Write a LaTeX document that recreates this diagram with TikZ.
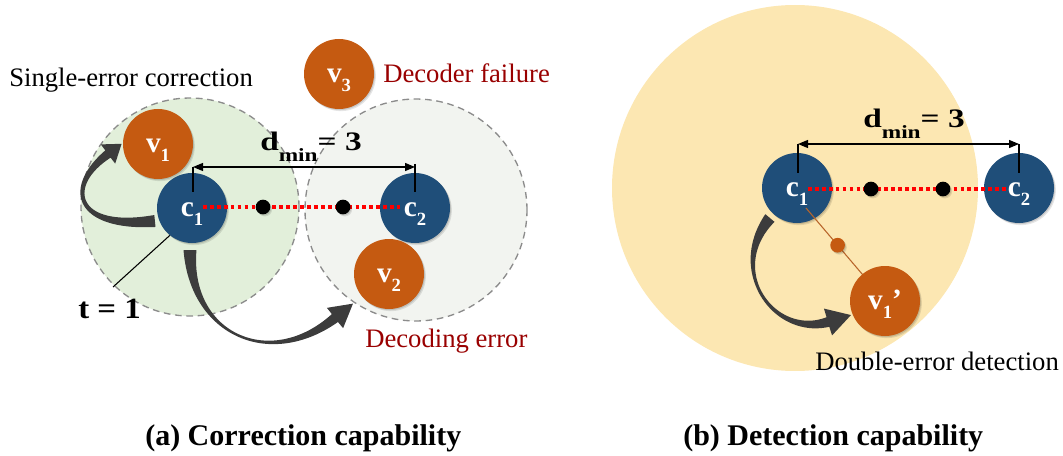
\documentclass[tikz,border=0pt]{standalone}
\usepackage{fontspec}
\setmainfont{Liberation Serif}
\usetikzlibrary{arrows.meta,calc}

\definecolor{nodeblue}{HTML}{1F4E79}
\definecolor{nodeorange}{HTML}{C55A11}
\definecolor{zonegreen}{HTML}{E2EFDA}
\definecolor{zonegray}{HTML}{F2F4F0}
\definecolor{zoneyellow}{HTML}{FCE7B2}
\definecolor{zoneedge}{HTML}{8C8C8C}
\definecolor{errred}{HTML}{990000}
\definecolor{swooshgray}{HTML}{3C3C3C}
\definecolor{linkbrown}{HTML}{B8652A}
\definecolor{hamred}{HTML}{FF0000}

% symbol with a lowered index
\newcommand{\sub}[2]{#1\raisebox{-0.3em}{\fontsize{14}{14}\selectfont #2}}

% control points, widths and head of a tapered curved arrow
\newcommand{\swooshpts}[8]{\def\sAx{#1}\def\sAy{#2}\def\sBx{#3}\def\sBy{#4}%
  \def\sCx{#5}\def\sCy{#6}\def\sDx{#7}\def\sDy{#8}}
\newcommand{\swooshwid}[6]{\def\sWs{#1}\def\sWm{#2}\def\sWe{#3}\def\sTm{#4}%
  \def\sHw{#5}\def\sHl{#6}}

\tikzset{
  swoosh fns/.style={declare function={
    bx(\t)=(1-\t)^3*\sAx+3*(1-\t)^2*\t*\sBx+3*(1-\t)*\t^2*\sCx+\t^3*\sDx;
    by(\t)=(1-\t)^3*\sAy+3*(1-\t)^2*\t*\sBy+3*(1-\t)*\t^2*\sCy+\t^3*\sDy;
    dx(\t)=0.01*(3*(1-\t)^2*(\sBx-\sAx)+6*(1-\t)*\t*(\sCx-\sBx)+3*\t^2*(\sDx-\sCx));
    dy(\t)=0.01*(3*(1-\t)^2*(\sBy-\sAy)+6*(1-\t)*\t*(\sCy-\sBy)+3*\t^2*(\sDy-\sCy));
    dl(\t)=sqrt(dx(\t)^2+dy(\t)^2);
    hw(\t)=0.5*(\t<\sTm ? \sWm+(\sWs-\sWm)*(abs(\sTm-\t)/\sTm)^2
                        : \sWm+(\sWe-\sWm)*(abs(\t-\sTm)/(1-\sTm))^2);
  }},
  softshadow/.style={
    preaction={fill=black, opacity=0.10, transform canvas={xshift=1.4pt, yshift=-1.6pt}},
    preaction={fill=black, opacity=0.12, transform canvas={xshift=0.7pt, yshift=-0.8pt}}},
  vert/.style={circle, minimum size=52.5pt, inner sep=0pt, text=white,
    font=\fontsize{22}{22}\selectfont\bfseries, text height=20pt, text depth=6.6pt,
    softshadow},
  code/.style={vert, fill=nodeblue},
  word/.style={vert, fill=nodeorange},
  zone/.style={circle, inner sep=0pt},
  dashzone/.style={zone, draw=zoneedge, line width=1pt, dash pattern=on 5pt off 3.5pt},
  dot/.style={circle, fill=black, minimum size=11pt, inner sep=0pt, softshadow},
  smalldot/.style={dot, fill=nodeorange, minimum size=11pt},
  hamming/.style={draw=hamred, line width=2.8pt, dash pattern=on 2.8pt off 2.4pt},
  dimline/.style={draw=black, line width=0.9pt,
    {Triangle[length=7.5pt,width=6pt]}-{Triangle[length=7.5pt,width=6pt]}},
  tick/.style={draw=black, line width=0.8pt},
  note/.style={inner sep=0pt, anchor=base west, font=\fontsize{20}{22}\selectfont},
  errnote/.style={note, text=errred},
  bignote/.style={inner sep=0pt, anchor=base west, font=\fontsize{20}{22}\selectfont\bfseries},
  caption/.style={inner sep=0pt, anchor=base west, font=\fontsize{22.5}{26}\selectfont\bfseries},
}

\newcommand{\swooshfill}{%
  \fill[swooshgray]
    plot[domain=0:1, samples=60, variable=\u]
      ({bx(\u)-hw(\u)*dy(\u)/dl(\u)}, {by(\u)+hw(\u)*dx(\u)/dl(\u)})
    -- ({\sDx-\sHw*dy(1)/dl(1)}, {\sDy+\sHw*dx(1)/dl(1)})
    -- ({\sDx+\sHl*dx(1)/dl(1)}, {\sDy+\sHl*dy(1)/dl(1)})
    -- ({\sDx+\sHw*dy(1)/dl(1)}, {\sDy-\sHw*dx(1)/dl(1)})
    -- plot[domain=1:0, samples=60, variable=\u]
      ({bx(\u)+hw(\u)*dy(\u)/dl(\u)}, {by(\u)-hw(\u)*dx(\u)/dl(\u)})
    -- cycle;}

\begin{document}
\begin{tikzpicture}[x=0.75pt, y=-0.75pt]
\useasboundingbox (0,0) rectangle (1063,456);

% ---------- (b) detection sphere ----------
\node[zone, fill=zoneyellow, minimum size=274.5pt] (sphb) at (795,188) {};

% ---------- (a) decoding spheres ----------
\node[dashzone, fill=zonegreen, minimum size=163.5pt] (sph1) at (190,207) {};
\node[dashzone, fill=zonegray, minimum size=166.5pt] (sph2) at (416,210) {};

% ---------- (a) codewords and received words ----------
\node[code] (c1a) at (192,208) {\sub{c}{1}};
\node[code] (c2a) at (415,208) {\sub{c}{2}};
\node[word] (v1a) at (158,144) {\sub{v}{1}};
\node[word] (v2a) at (389,274) {\sub{v}{2}};
\node[word] (v3a) at (339,74) {\sub{v}{3}};

\draw[hamming] ($(c1a.center)+(11,-1)$) -- ($(c2a.center)+(-15,-1)$);
\node[dot] (p1a) at (263,207) {};
\node[dot] (p2a) at (343,207) {};

\coordinate (da1) at (193,167);
\coordinate (da2) at (415,167);
\draw[dimline] (da1) -- (da2);
\coordinate (ka1) at (193,192);
\coordinate (ka2t) at (415,164);
\coordinate (ka2) at (415,192);
\draw[tick] (da1) -- (ka1);
\draw[tick] (ka2t) -- (ka2);
\node[bignote] (dmina) at (260,151)
  {\scalebox{1.25}[1]{d\raisebox{-0.38em}{\fontsize{14}{14}\selectfont min}= 3}};

\coordinate (tend) at (113,287);
\draw[tick] (c1a.231) -- (tend);
\node[bignote] (tlab) at (78,318)
  {\fontsize{22}{24}\selectfont\scalebox{1.12}[1]{t = 1}};

\begin{scope}[swoosh fns]
  % c1 -> v1
  \swooshpts{155}{221}{75}{230}{64}{187}{108}{154}
  \swooshwid{12}{4}{9}{0.55}{12}{17}
  \swooshfill
  % c1 -> v2
  \swooshpts{190}{250}{190}{335}{270}{370}{335}{318}
  \swooshwid{13}{2.5}{10}{0.5}{13}{23}
  \swooshfill
\end{scope}

\node[note] (sec) at (9,87) {Single-error correction};
\node[errnote] (fail) at (383,83) {Decoder failure};
\node[errnote] (derr) at (365,347) {Decoding error};

% ---------- (b) codewords and received word ----------
\node[code] (c1b) at (797,188) {\sub{c}{1}};
\node[code] (c2b) at (1019,188) {\sub{c}{2}};

\coordinate (v1pos) at (885,301);
\coordinate (lnstart) at (806,208);
\draw[linkbrown, line width=0.8pt] (lnstart) -- (v1pos);
\node[smalldot] (midb) at ($(lnstart)!0.40!(v1pos)$) {};
\node[word] (v1b) at (v1pos) {\sub{v}{1}’};

\draw[hamming] ($(c1b.center)+(11,1)$) -- ($(c2b.center)+(-12,1)$);
\node[dot] (p1b) at (871,189) {};
\node[dot] (p2b) at (943,189) {};

\coordinate (db1) at (798,144);
\coordinate (db2) at (1019,144);
\draw[dimline] (db1) -- (db2);
\coordinate (kb1) at (798,173);
\coordinate (kb2) at (1019,173);
\draw[tick] (db1) -- (kb1);
\draw[tick] (db2) -- (kb2);
\node[bignote] (dminb) at (863,128)
  {\scalebox{1.25}[1]{d\raisebox{-0.38em}{\fontsize{14}{14}\selectfont min}= 3}};

\begin{scope}[swoosh fns]
  % c1 -> v1'
  \swooshpts{770}{218}{726}{272}{775}{338}{828}{322}
  \swooshwid{12}{3}{10}{0.45}{14}{24}
  \swooshfill
\end{scope}

\node[note] (ded) at (815,370) {Double-error detection};

% ---------- captions ----------
\node[caption] (capa) at (145,445) {(a) Correction capability};
\node[caption] (capb) at (683,445) {(b) Detection capability};
\end{tikzpicture}
\end{document}
